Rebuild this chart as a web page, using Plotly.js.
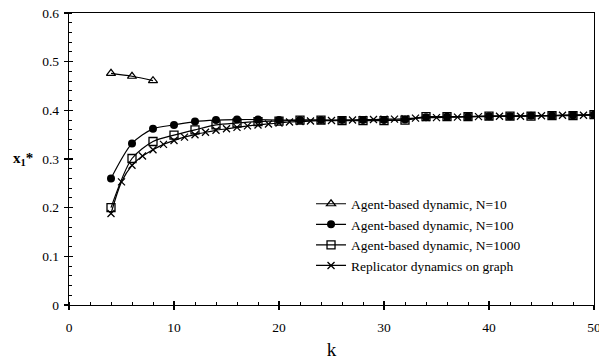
<!DOCTYPE html>
<html><head><meta charset="utf-8">
<script src="https://cdn.plot.ly/plotly-3.0.1.min.js"></script>
<style>html,body{margin:0;padding:0;background:#fff}#c{width:599px;height:360px}</style>
</head><body><div id="c"></div>
<script>
const kN10 = [4, 6, 8];
const valN10 = [0.476, 0.470, 0.461];
const kEven = [4,6,8,10,12,14,16,18,20,22,24,26,28,30,32,34,36,38,40,42,44,46,48,50];
const valN100 = [0.260,0.332,0.362,0.370,0.377,0.380,0.381,0.381,0.380,0.380,0.380,0.380,0.380,0.380,0.381,0.386,0.387,0.387,0.388,0.388,0.389,0.389,0.390,0.391];
const valN1000 = [0.200,0.301,0.336,0.349,0.360,0.370,0.374,0.377,0.378,0.380,0.380,0.379,0.379,0.379,0.380,0.387,0.387,0.387,0.388,0.388,0.388,0.389,0.389,0.391];
const kRep = [4,5,6,7,8,9,10,11,12,13,14,15,16,17,18,19,20,21,22,23,24,25,26,27,28,29,30,31,32,33,34,35,36,37,38,39,40,41,42,43,44,45,46,47,48,49,50];
const valRep = [0.188,0.253,0.287,0.306,0.319,0.330,0.338,0.345,0.350,0.355,0.359,0.362,0.365,0.368,0.370,0.372,0.374,0.376,0.377,0.378,0.379,0.379,0.380,0.380,0.381,0.381,0.382,0.382,0.383,0.384,0.385,0.385,0.386,0.386,0.387,0.387,0.387,0.388,0.388,0.388,0.389,0.389,0.389,0.390,0.390,0.390,0.390];
const names = ["Agent-based dynamic, N=10","Agent-based dynamic, N=100","Agent-based dynamic, N=1000","Replicator dynamics on graph"];
const xTickVals = [0,10,20,30,40,50];
const yTickVals = [0,0.1,0.2,0.3,0.4,0.5,0.6];

const FONT = "Liberation Serif, Times New Roman, serif";
const ln = {color:'#000', width:1.2, shape:'spline', smoothing:0.8};
const traces = [
  {x:kN10, y:valN10, name:names[0], mode:'lines+markers', line:ln,
   marker:{symbol:'triangle-up-open', size:8, color:'#000', line:{width:1.2}}},
  {x:kEven, y:valN100, name:names[1], mode:'lines+markers', line:ln,
   marker:{symbol:'circle', size:8, color:'#000'}},
  {x:kEven, y:valN1000, name:names[2], mode:'lines+markers', line:ln,
   marker:{symbol:'square-open', size:8, color:'#000', line:{width:1.3}}},
  {x:kRep, y:valRep, name:names[3], mode:'lines+markers', line:ln,
   marker:{symbol:'x-thin-open', size:7, color:'#000', line:{width:1.3}}}
];
const axCommon = {showgrid:false, zeroline:false, color:'#000', linecolor:'#000', linewidth:1.3,
  tickcolor:'#000', tickwidth:1.3, ticklen:4, tickfont:{family:FONT, size:13.5, color:'#000'}};
const layout = {
  width:599, height:360, paper_bgcolor:'#fff', plot_bgcolor:'#fff',
  margin:{l:69, r:5, t:13, b:55},
  showlegend:true,
  legend:{x:0.461, y:0.399, xanchor:'left', yanchor:'top', bgcolor:'rgba(0,0,0,0)',
    font:{family:FONT, size:13.5, color:'#000'}, tracegroupgap:0, itemwidth:30},
  xaxis:Object.assign({}, axCommon, {range:[0,50], tickvals:xTickVals, ticks:'outside',
    showline:true, mirror:true, ticklabeloverflow:'allow', ticklabelstandoff:5,
    minor:{dtick:2, ticks:'inside', ticklen:3, tickcolor:'#000', tickwidth:1},
    title:{text:'k', font:{family:FONT, size:19, color:'#000'}, standoff:12}}),
  yaxis:Object.assign({}, axCommon, {range:[0,0.6], tickvals:yTickVals, ticks:'outside',
    showline:true, mirror:true, ticklabelstandoff:2,
    minor:{dtick:0.02, ticks:'inside', ticklen:3, tickcolor:'#000', tickwidth:1}}),
  xaxis2:Object.assign({}, axCommon, {range:[0,50], tickvals:xTickVals, ticks:'inside',
    showticklabels:false, showline:false, overlaying:'x', side:'bottom', anchor:'y'}),
  yaxis2:Object.assign({}, axCommon, {range:[0,0.6], tickvals:yTickVals, ticks:'inside',
    showticklabels:false, showline:false, overlaying:'y', side:'left', anchor:'x'}),
  annotations:[{xref:'paper', yref:'paper', x:-0.064, y:0.5, xanchor:'right', yanchor:'middle',
    text:'<b>x<sub>1</sub>*</b>', showarrow:false, font:{family:FONT, size:15, color:'#000'}}]
};
traces.push({x:[0], y:[0], xaxis:'x2', yaxis:'y2', mode:'markers', marker:{opacity:0}, showlegend:false, hoverinfo:'skip'});
Plotly.newPlot('c', traces, layout, {staticPlot:true});
</script></body></html>
